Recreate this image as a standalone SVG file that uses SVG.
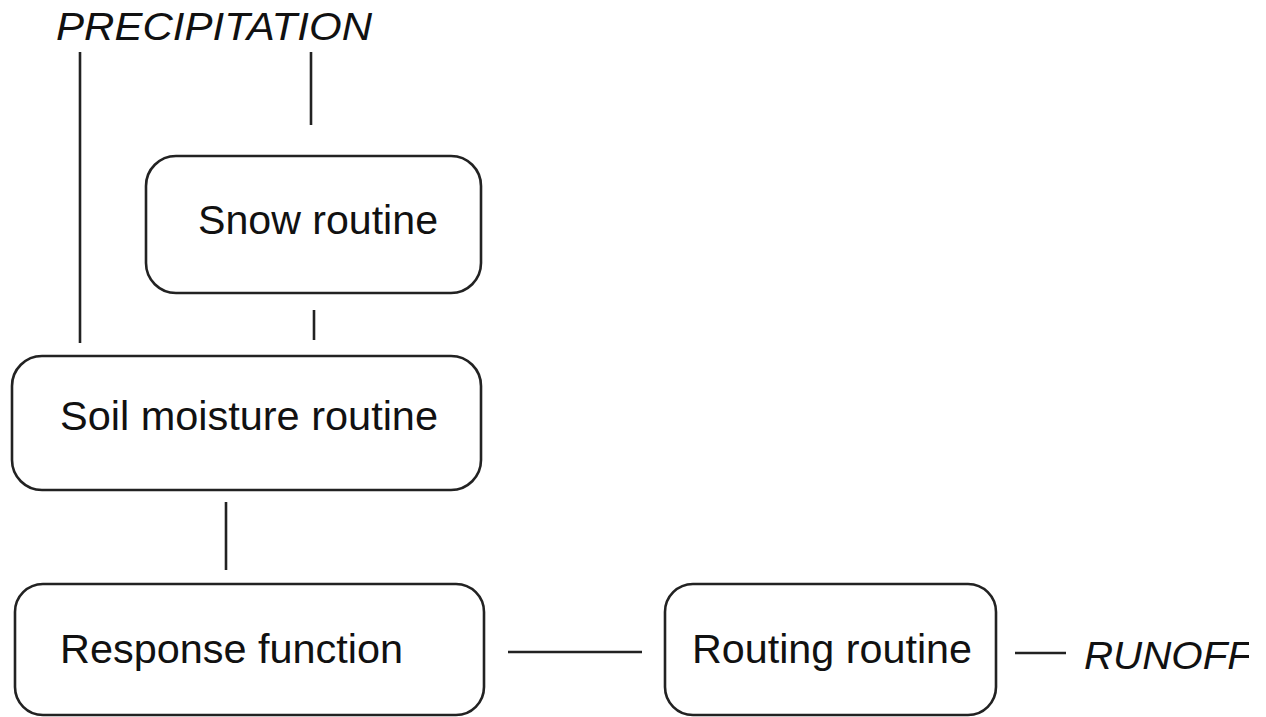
<svg xmlns="http://www.w3.org/2000/svg" width="1266" height="717" viewBox="0 0 1266 717">
  <style>
    .box { fill: #ffffff; stroke: #222222; stroke-width: 2.6; }
    .wire { stroke: #222222; stroke-width: 2.6; fill: none; }
    .label { font-family: "Liberation Sans", Arial, sans-serif; font-size: 40px; fill: #111111; }
    .io { font-family: "Liberation Sans", Arial, sans-serif; font-size: 38px; font-style: italic; fill: #111111; }
  </style>
  <defs>
    <clipPath id="pageClip">
      <rect x="0" y="0" width="1249" height="717"/>
    </clipPath>
  </defs>
  <rect x="0" y="0" width="1266" height="717" fill="#ffffff"/>

  <g id="precipitation">
    <text class="io" x="56" y="40" textLength="316" lengthAdjust="spacingAndGlyphs">PRECIPITATION</text>
  </g>

  <g id="connectors">
    <line class="wire" x1="80" y1="52" x2="80" y2="343"/>
    <line class="wire" x1="311" y1="52" x2="311" y2="125"/>
    <line class="wire" x1="314" y1="310" x2="314" y2="340"/>
    <line class="wire" x1="226" y1="502" x2="226" y2="570"/>
    <line class="wire" x1="508" y1="652" x2="642" y2="652"/>
    <line class="wire" x1="1015" y1="653" x2="1066" y2="653"/>
  </g>

  <g id="snow-routine">
    <rect class="box" x="146" y="156" width="335" height="137" rx="30" ry="30"/>
    <text class="label" x="198" y="234" textLength="240" lengthAdjust="spacingAndGlyphs">Snow routine</text>
  </g>

  <g id="soil-moisture-routine">
    <rect class="box" x="12" y="356" width="469" height="134" rx="30" ry="30"/>
    <text class="label" x="60" y="430" textLength="378" lengthAdjust="spacingAndGlyphs">Soil moisture routine</text>
  </g>

  <g id="response-function">
    <rect class="box" x="15" y="584" width="469" height="131" rx="28" ry="28"/>
    <text class="label" x="60" y="663" textLength="343" lengthAdjust="spacingAndGlyphs">Response function</text>
  </g>

  <g id="routing-routine">
    <rect class="box" x="665" y="584" width="331" height="131" rx="28" ry="28"/>
    <text class="label" x="692" y="663" textLength="280" lengthAdjust="spacingAndGlyphs">Routing routine</text>
  </g>

  <g id="runoff" clip-path="url(#pageClip)">
    <text class="io" x="1084" y="669" textLength="168" lengthAdjust="spacingAndGlyphs">RUNOFF</text>
  </g>
</svg>
